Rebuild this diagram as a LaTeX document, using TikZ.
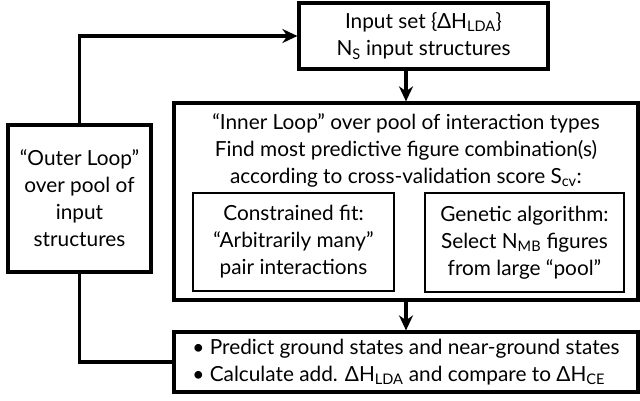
\documentclass[tikz,border=0pt]{standalone}
\usepackage{fontspec}
\setmainfont{Lato}
\usetikzlibrary{arrows.meta,positioning}

\begin{document}
\begin{tikzpicture}[x=1pt,y=-1pt,
                font=\fontsize{20.8}{27}\selectfont,
                bigbox/.style={draw,line width=3.2pt,align=center,inner sep=0pt},
                smallbox/.style={draw,line width=1.6pt,align=center,inner sep=0pt},
                link/.style={line width=3.2pt}]
                \useasboundingbox (0,0) rectangle (640,401);

                \node[bigbox,minimum width=249pt,minimum height=66pt] (input) at (423.5,36) {
                    Input set \{ΔH\textsubscript{LDA}\}\\N\textsubscript{S} input structures};
                \node[bigbox,minimum width=464pt,minimum height=197pt] (inner) at (406,201.5) {};
                \node[align=center,inner sep=0pt,below=12pt of inner.north] (innertext) {
                    ``Inner Loop'' over pool of interaction types\\
                    Find most predictive figure combination(s)\\
                    according to cross-validation score S\textsubscript{cv}:};
                \node[smallbox,minimum width=201pt,minimum height=98pt] (fit) at (293.5,242) {
                    Constrained fit:\\``Arbitrarily many''\\pair interactions};
                \node[smallbox,minimum width=199pt,minimum height=99pt] (genetic) at (524.5,242.5) {
                    Genetic algorithm:\\Select N\textsubscript{MB} figures\\from large ``pool''};
                \node[bigbox,minimum width=143pt,minimum height=147pt] (outer) at (79.5,198.5) {
                    ``Outer Loop''\\over pool of\\input\\structures};
                \node[bigbox,align=left,minimum width=464pt,minimum height=60pt] (result) at (406,362) {
                    \textbullet\ Predict ground states and near-ground states\\
                    \textbullet\ Calculate add. ΔH\textsubscript{LDA} and compare to ΔH\textsubscript{CE}};

                \draw[link,-{Stealth[length=15pt,width=14pt]}] (outer.north) |- (input.west);
                \draw[link,-{Stealth[length=15pt,width=14pt]}] (input.south -| inner.north) -- (inner.north);
                \draw[link,-{Stealth[length=15pt,width=14pt]}] (inner.south) -- (result.north);
                \draw[link] (outer.south) |- (result.west);
            \end{tikzpicture}
\end{document}
